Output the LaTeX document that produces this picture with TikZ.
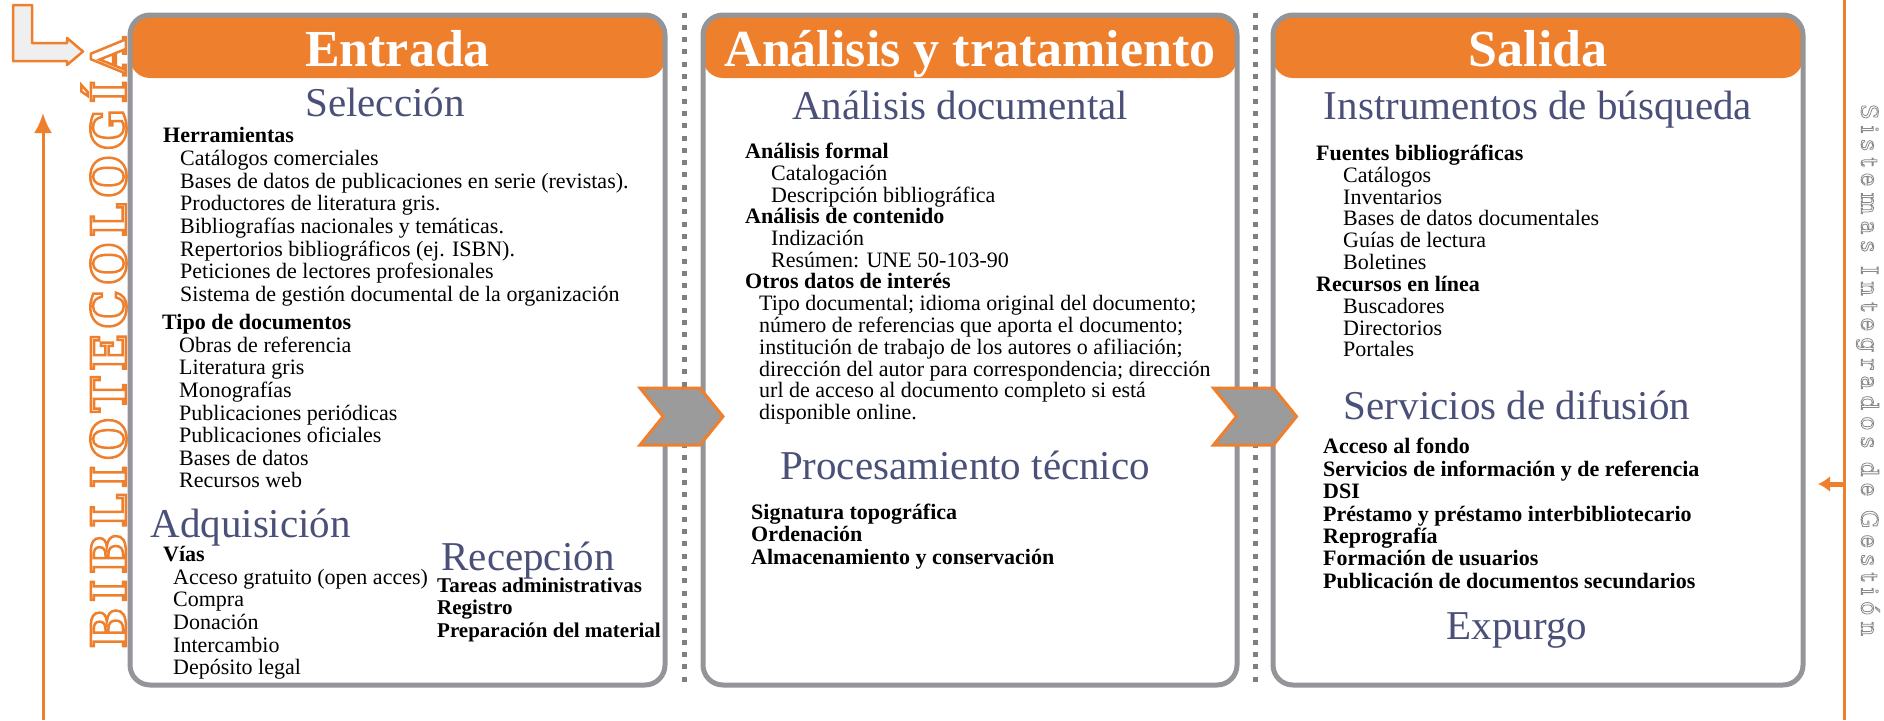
\documentclass[tikz,border=0pt]{standalone}
\usepackage{fontspec}
\setmainfont{Liberation Serif}
\newfontfamily\losa[LetterSpace=12]{DejaVu Serif Bold}
\newfontfamily\losafina[LetterSpace=27]{DejaVu Serif}
\usetikzlibrary{positioning,calc,shapes.symbols,arrows.meta}
\definecolor{naranja}{HTML}{EE7F2D}
\definecolor{marco}{HTML}{939598}
\definecolor{pizarra}{HTML}{4B5079}
\definecolor{flecha}{HTML}{9B9B9B}
\definecolor{punteo}{HTML}{808080}
\definecolor{claro}{HTML}{EFEFEF}
\definecolor{contorno}{HTML}{8A8A8A}
\newcommand\cuerpo[1][21.7]{\fontsize{22}{#1}\selectfont\lineskiplimit=-100pt}
\newcommand\puntal{\rule[-6pt]{0pt}{26pt}}
% hollow letters: stroke only
\newcommand\hueco[2]{\special{pdf:literal direct 1 Tr #1 w}#2\special{pdf:literal direct 0 Tr}}
\tikzset{panel/.style={draw=marco, line width=5pt, rounded corners=20pt, inner sep=0pt,
  minimum height=670pt, path picture={\fill[naranja] (path picture bounding box.north west)
  rectangle ([yshift=-63pt]path picture bounding box.north east);}},
 cabecera/.style={anchor=base, text=white, font=\fontsize{52}{52}\selectfont\bfseries},
 titulo/.style={anchor=base, text=pizarra, font=\fontsize{41}{41}\selectfont},
 lista/.style={anchor=north west, align=left, inner sep=0pt, font=\cuerpo,
  execute at end node=\puntal},
 lista ancha/.style={lista, font={\cuerpo[22.6]}},
 grupo/.style={lista, font=\cuerpo\bfseries},
 grupo ancho/.style={lista, font={\cuerpo[22.6]\bfseries}},
 chevron/.style={signal, signal from=west, signal to=east, signal pointer angle=102,
  fill=flecha, draw=naranja, line width=3pt, minimum width=83pt, minimum height=57pt, inner sep=0pt},
 separador/.style={draw=punteo, line width=5pt, dash pattern=on 5pt off 7.3pt}}
\begin{document}
\begin{tikzpicture}[x=1pt,y=1pt]
\useasboundingbox (0,0) rectangle (1884,-720);

% the three stages
\node[panel, minimum width=535pt] (entrada) at (397.5,-350) {};
\node[panel, minimum width=534pt] (analisis) at (970,-350) {};
\node[panel, minimum width=530pt] (salida) at (1538,-350) {};

\draw[separador] ($(entrada.north east)!.5!(analisis.north west)$) -- ($(entrada.south east)!.5!(analisis.south west)$);
\draw[separador] ($(analisis.north east)!.5!(salida.north west)$) -- ($(analisis.south east)!.5!(salida.south west)$);

\node[chevron] (paso1) at (681.5,-416.5) {};
\node[chevron] (paso2) at (1255,-416.5) {};

% Entrada
\node[cabecera] (tEntrada) at (397.5,-66) {Entrada};
\node[titulo] (tSeleccion) at (385,-116) {Selección};
\node[grupo ancho] (herr) at (163,-122.5) {\puntal Herramientas};
\node[lista ancha, below right=-3.4pt and 17pt of herr.south west] (herrLista) {\puntal Catálogos comerciales\\
 Bases de datos de publicaciones en serie (revistas).\\ Productores de literatura gris.\\
 Bibliografías nacionales y temáticas.\\ Repertorios bibliográficos (ej. ISBN).\\
 Peticiones de lectores profesionales\\ Sistema de gestión documental de la organización};
\node[grupo ancho] (tipo) at (162,-309) {\puntal Tipo de documentos};
\node[lista ancha, below right=-3.4pt and 17pt of tipo.south west] (tipoLista) {\puntal Obras de referencia\\
 Literatura gris\\ Monografías\\ Publicaciones periódicas\\ Publicaciones oficiales\\
 Bases de datos\\ Recursos web};
\node[titulo, anchor=base west] (tAdquisicion) at (147,-537) {Adquisición};
\node[grupo ancho] (vias) at (163,-541) {\puntal Vías};
\node[lista ancha, below right=-3.4pt and 10pt of vias.south west] (viasLista) {\puntal Acceso gratuito (open acces)\\
 Compra\\ Donación\\ Intercambio\\ Depósito legal};
\node[titulo, anchor=base west] (tRecepcion) at (438,-570) {Recepción};
\node[grupo ancho, font={\cuerpo[22.6]\bfseries\fontsize{21}{22.6}\selectfont}] (recepcion) at (437,-572)
 {\puntal Tareas administrativas\\ Registro\\ Preparación del material};

% Analisis y tratamiento
\node[cabecera] (tAnalisis) at (970,-66) {Análisis y tratamiento};
\node[titulo] (tDocumental) at (960,-119) {Análisis documental};
\node[grupo] (formal) at (745,-138.4) {\puntal Análisis formal};
\node[lista, below right=-4.3pt and 26pt of formal.south west] (formalLista) {\puntal Catalogación\\
 Descripción bibliográfica};
\node[grupo] (contenido) at (745,-203.5) {\puntal Análisis de contenido};
\node[lista, below right=-4.3pt and 26pt of contenido.south west] (contenidoLista) {\puntal Indización\\
 Resúmen: UNE 50-103-90};
\node[grupo] (otros) at (745,-268.6) {\puntal Otros datos de interés};
\node[lista, below right=-4.3pt and 14pt of otros.south west] (otrosLista) {\puntal Tipo documental; idioma original del documento;\\
 número de referencias que aporta el documento;\\ institución de trabajo de los autores o afiliación;\\
 dirección del autor para correspondencia; dirección\\ url de acceso al documento completo si está\\
 disponible online.};
\node[titulo] (tProcesamiento) at (965,-479) {Procesamiento técnico};
\node[grupo, font={\cuerpo[22.2]\bfseries}] (procesamiento) at (751,-499.4)
 {\puntal Signatura topográfica\\ Ordenación\\ Almacenamiento y conservación};

% Salida
\node[cabecera] (tSalida) at (1538,-66) {Salida};
\node[titulo] (tInstrumentos) at (1538,-119) {Instrumentos de búsqueda};
\node[grupo] (fuentes) at (1316,-140.2) {\puntal Fuentes bibliográficas};
\node[lista, below right=-4.3pt and 27pt of fuentes.south west] (fuentesLista) {\puntal Catálogos\\ Inventarios\\
 Bases de datos documentales\\ Guías de lectura\\ Boletines};
\node[grupo] (recursos) at (1316,-271) {\puntal Recursos en línea};
\node[lista, below right=-4.3pt and 27pt of recursos.south west] (recursosLista) {\puntal Buscadores\\
 Directorios\\ Portales};
\node[titulo] (tDifusion) at (1517,-419) {Servicios de difusión};
\node[grupo, font={\cuerpo[22.4]\bfseries}] (difusion) at (1323,-433.6) {\puntal Acceso al fondo\\
 Servicios de información y de referencia\\ DSI\\ Préstamo y préstamo interbibliotecario\\
 Reprografía\\ Formación de usuarios\\ Publicación de documentos secundarios};
\node[titulo] (tExpurgo) at (1517,-639) {Expurgo};

% side bands
\draw[draw=naranja, fill=claro, line width=2.5pt, line join=round] (13,-5) -- (32,-5) -- (32,-43)
 -- (67,-43) -- (67,-38) -- (83,-51.5) -- (67,-65) -- (67,-61) -- (13,-61) -- cycle;
\node[rotate=90, inner sep=0pt, text=naranja, font=\losa\fontsize{48}{48}\selectfont] (biblio) at (104,-343)
 {\hueco{2.5}{BIBLIOTECOLOGÍA}};
\coordinate (arribaIni) at (43,-720);
\coordinate (arribaFin) at (43,-113);
\draw[naranja, line width=3pt, -{Latex[length=20pt,width=18pt]}] (arribaIni) -- (arribaFin);

\coordinate (lineaSup) at (1844,0);
\coordinate (lineaInf) at (1844,-720);
\draw[naranja, line width=3pt] (lineaSup) -- (lineaInf);
\coordinate (flechaIni) at (1844,-484);
\coordinate (flechaFin) at (1818,-484);
\draw[naranja, line width=5pt, -{Latex[length=12pt,width=16pt]}] (flechaIni) -- (flechaFin);
\node[rotate=-90, inner sep=0pt, text=contorno, font=\losafina\fontsize{23}{23}\selectfont] (sistemas) at (1868,-370)
 {\hueco{0.8}{Sistemas Integrados de Gestión}};
\end{tikzpicture}
\end{document}
